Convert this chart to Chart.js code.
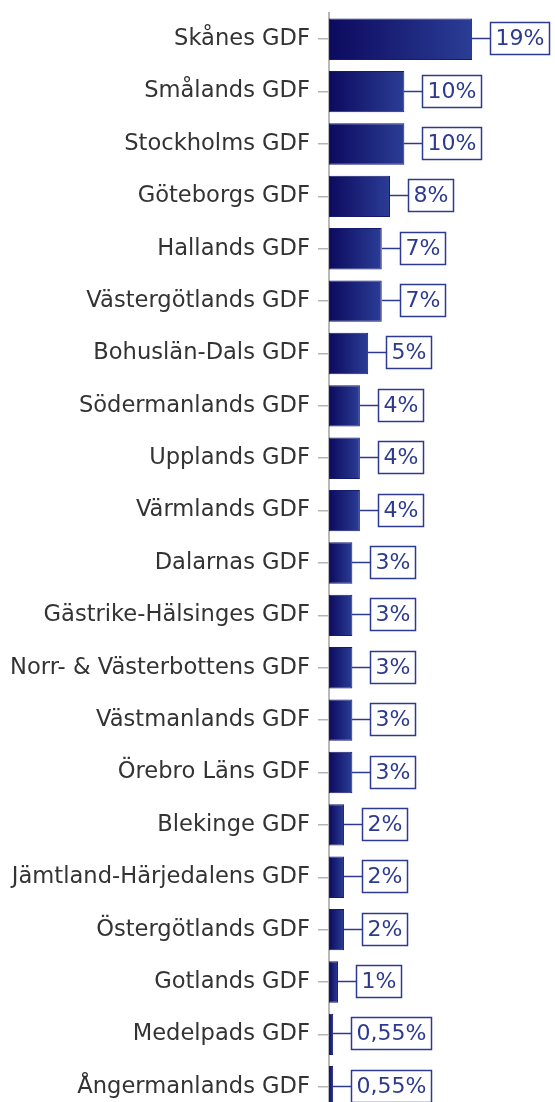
<!DOCTYPE html>
<html lang="sv">
<head>
  <meta charset="UTF-8">
  <title>GDF andelar</title>
  <style>
    html, body { margin: 0; padding: 0; background: #fff; overflow: hidden; }
    #wrap { width: 555px; height: 1114px; }
  </style>
  <script src="https://cdn.jsdelivr.net/npm/chart.js"></script>
</head>
<body>
  <div id="wrap"><canvas id="chart"></canvas></div>

  <script>
    // categories, top to bottom
    const districts = [
      'Skånes GDF', 'Smålands GDF', 'Stockholms GDF', 'Göteborgs GDF', 'Hallands GDF',
      'Västergötlands GDF', 'Bohuslän-Dals GDF', 'Södermanlands GDF', 'Upplands GDF',
      'Värmlands GDF', 'Dalarnas GDF', 'Gästrike-Hälsinges GDF', 'Norr- & Västerbottens GDF',
      'Västmanlands GDF', 'Örebro Läns GDF', 'Blekinge GDF', 'Jämtland-Härjedalens GDF',
      'Östergötlands GDF', 'Gotlands GDF', 'Medelpads GDF', 'Ångermanlands GDF'
    ];
    // share in percent
    const shares = [19.0, 10.0, 10.0, 8.1, 7.0, 7.0, 5.2, 4.1, 4.1, 4.1, 3.1, 3.1, 3.1, 3.1, 3.1,
      2.0, 2.0, 2.0, 1.2, 0.55, 0.55];
    // value labels as printed
    const shareLabels = ['19%', '10%', '10%', '8%', '7%', '7%', '5%', '4%', '4%', '4%', '3%', '3%',
      '3%', '3%', '3%', '2%', '2%', '2%', '1%', '0,55%', '0,55%'];

    const FONT = '"DejaVu Sans", Verdana, sans-serif';
    const NAVY = '#2c3a90';

    // boxed labels with a connector line from the end of each bar
    const boxLabels = {
      id: 'boxLabels',
      afterDatasetsDraw(chart) {
        const ctx = chart.ctx;
        const meta = chart.getDatasetMeta(0);
        ctx.save();
        ctx.font = '22px ' + FONT;
        ctx.textBaseline = 'middle';
        ctx.textAlign = 'left';
        meta.data.forEach((bar, i) => {
          const txt = shareLabels[i];
          const w = Math.round(ctx.measureText(txt).width) + 10;
          const h = 32;
          const x0 = Math.round(bar.x);
          const bx = x0 + 18;
          const y = Math.round(bar.y) - 1;
          ctx.strokeStyle = NAVY;
          ctx.lineWidth = 1.5;
          ctx.beginPath();
          ctx.moveTo(x0, y + 0.5);
          ctx.lineTo(bx, y + 0.5);
          ctx.stroke();
          ctx.fillStyle = '#fff';
          ctx.fillRect(bx, y - h / 2, w, h);
          ctx.strokeRect(bx + 0.5, y - h / 2 + 0.5, w, h);
          ctx.fillStyle = NAVY;
          ctx.fillText(txt, bx + 5.5, y + 1.5);
        });
        ctx.restore();
      }
    };

    function barGradient(c) {
      const chart = c.chart;
      const xs = chart.scales.x;
      if (!chart.chartArea || !xs) return '#1a1f7a';
      const x0 = xs.getPixelForValue(0);
      const x1 = Math.max(xs.getPixelForValue(c.raw), x0 + 1);
      const g = chart.ctx.createLinearGradient(x0, 0, x1, 0);
      g.addColorStop(0, '#0c0a5e');
      g.addColorStop(1, '#2b3d96');
      return g;
    }

    new Chart(document.getElementById('chart'), {
      type: 'bar',
      data: {
        labels: districts,
        datasets: [{
          data: shares,
          backgroundColor: barGradient,
          borderColor: '#161b70',
          borderWidth: 1,
          borderSkipped: false,
          barPercentage: 0.79,
          categoryPercentage: 1
        }]
      },
      options: {
        indexAxis: 'y',
        responsive: true,
        maintainAspectRatio: false,
        animation: false,
        layout: { padding: { top: 13, bottom: 1, left: 0, right: 0 } },
        plugins: { legend: { display: false }, tooltip: { enabled: false } },
        scales: {
          x: { display: false, min: 0, max: 30 },
          y: {
            afterFit: s => {
              s.width = 329;
              s.paddingTop = 0;
              s.paddingBottom = 0;
            },
            grid: {
              offset: false,
              drawOnChartArea: false,
              drawTicks: true,
              tickLength: 11,
              color: '#b4b4b4',
              lineWidth: 1.5
            },
            border: { display: true, color: '#b8b8b8', width: 2 },
            ticks: {
              padding: 8,
              color: '#333',
              font: { family: FONT, size: 22.6 }
            }
          }
        }
      },
      plugins: [boxLabels]
    });
  </script>
</body>
</html>
